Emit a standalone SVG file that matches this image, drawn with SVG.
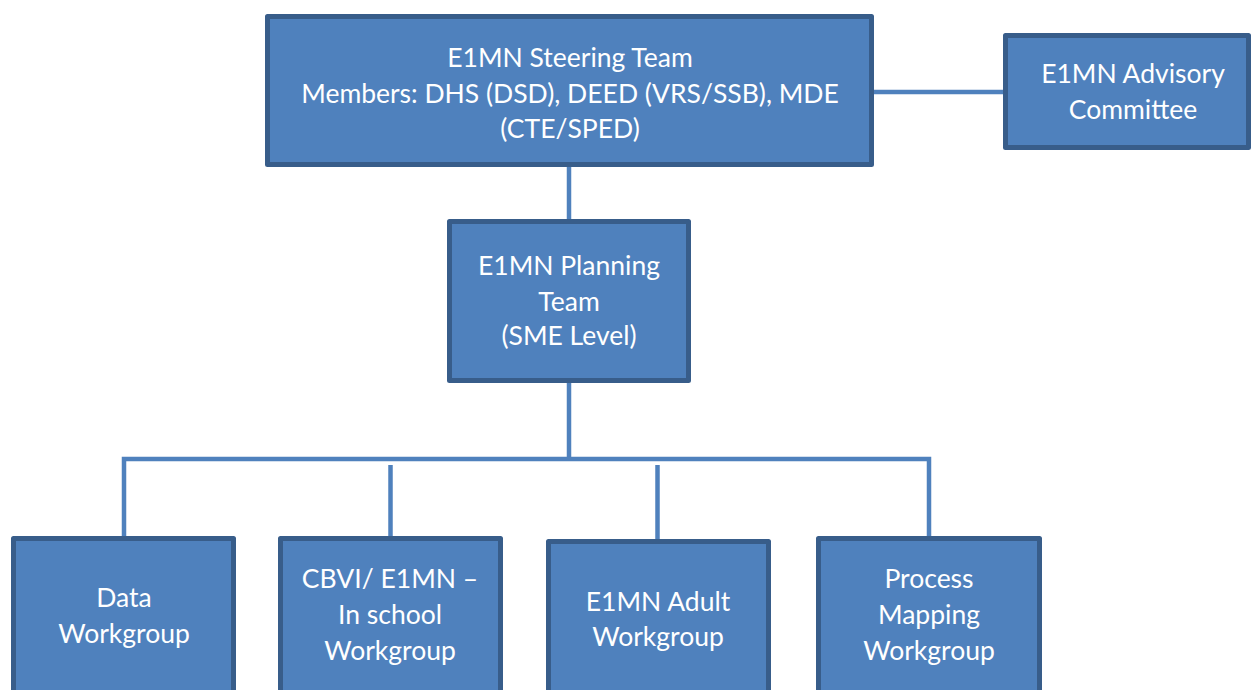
<svg xmlns="http://www.w3.org/2000/svg" width="1252" height="690" viewBox="0 0 1252 690">
  <style>
    .box { fill: #4F81BD; stroke: #385D8A; stroke-width: 5; stroke-linejoin: round; }
    .link { fill: none; stroke: #4F81BD; stroke-width: 4.5; stroke-linejoin: miter; stroke-linecap: butt; }
    .label { fill: #FFFFFF; font-family: Lato, "Open Sans", "Liberation Sans", sans-serif; font-size: 26.5px; text-anchor: middle; }
  </style>
  <rect width="1252" height="690" fill="#FFFFFF"/>

  <g id="connectors">
    <!-- steering team to advisory committee -->
    <path class="link" d="M874 92 H1003"/>
    <!-- steering team to planning team -->
    <path class="link" d="M569 167 V219"/>
    <!-- planning team down to the workgroup bar -->
    <path class="link" d="M569 383 V459"/>
    <!-- bar with outer drops -->
    <path class="link" d="M124 537 V459 H929 V537"/>
    <!-- inner drops -->
    <path class="link" d="M390.5 465 V537"/>
    <path class="link" d="M657.5 465 V540"/>
  </g>

  <g id="steering-team">
    <rect class="box" x="267.5" y="16.5" width="604" height="148"/>
    <text class="label" x="570" y="67">E1MN Steering Team</text>
    <text class="label" x="570" y="102.5">Members: DHS (DSD), DEED (VRS/SSB), MDE</text>
    <text class="label" x="570" y="138">(CTE/SPED)</text>
  </g>

  <g id="advisory-committee">
    <rect class="box" x="1005.5" y="35.5" width="243" height="112"/>
    <text class="label" x="1133" y="83">E1MN Advisory</text>
    <text class="label" x="1133" y="119">Committee</text>
  </g>

  <g id="planning-team">
    <rect class="box" x="449.5" y="221.5" width="239" height="159"/>
    <text class="label" x="569" y="275">E1MN Planning</text>
    <text class="label" x="569" y="311">Team</text>
    <text class="label" x="569" y="345">(SME Level)</text>
  </g>

  <g id="data-workgroup">
    <rect class="box" x="13.5" y="538.5" width="220" height="170"/>
    <text class="label" x="124" y="607">Data</text>
    <text class="label" x="124" y="643">Workgroup</text>
  </g>

  <g id="in-school-workgroup">
    <rect class="box" x="280.5" y="538.5" width="220" height="170"/>
    <text class="label" x="390" y="588">CBVI/ E1MN –</text>
    <text class="label" x="390" y="624">In school</text>
    <text class="label" x="390" y="660">Workgroup</text>
  </g>

  <g id="adult-workgroup">
    <rect class="box" x="548.5" y="541.5" width="220" height="170"/>
    <text class="label" x="658" y="611">E1MN Adult</text>
    <text class="label" x="658" y="646">Workgroup</text>
  </g>

  <g id="process-mapping-workgroup">
    <rect class="box" x="818.5" y="538.5" width="221" height="170"/>
    <text class="label" x="929" y="588">Process</text>
    <text class="label" x="929" y="624">Mapping</text>
    <text class="label" x="929" y="660">Workgroup</text>
  </g>
</svg>
